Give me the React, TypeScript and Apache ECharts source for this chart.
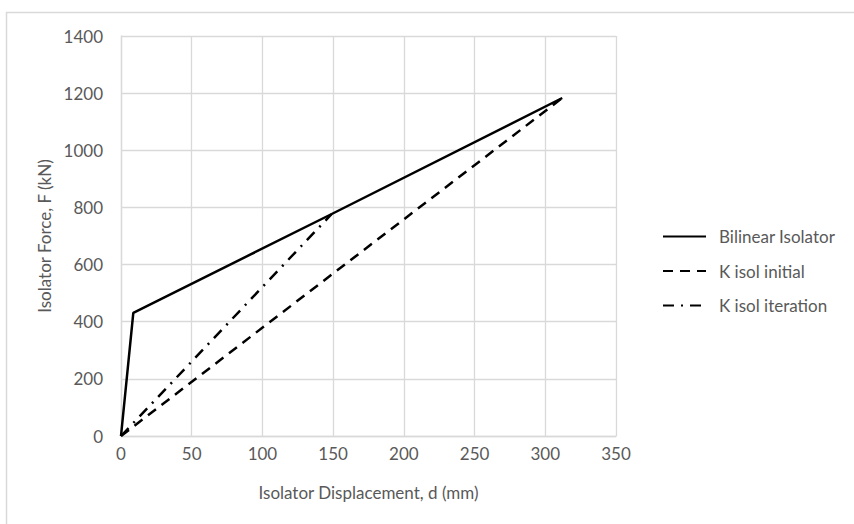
import React, { useEffect, useRef } from "react";
import * as echarts from "echarts";

const xTicks = [0, 50, 100, 150, 200, 250, 300, 350];
const yTicks = [0, 200, 400, 600, 800, 1000, 1200, 1400];

const bilinearX = [0, 8.7, 149, 312];
const bilinearY = [0, 431, 777, 1183];

const initialX = [0, 312];
const initialY = [0, 1183];

const iterationX = [0, 149];
const iterationY = [0, 777];

const seriesNames = ["Bilinear Isolator", "K isol initial", "K isol iteration"];
const xTitle = "Isolator Displacement, d (mm)";
const yTitle = "Isolator Force, F (kN)";

const zip = (xs: number[], ys: number[]) => xs.map((x, i) => [x, ys[i]]);

export default function App() {
  const ref = useRef<HTMLDivElement>(null);
  useEffect(() => {
    if (!ref.current) return;
    const chart = echarts.init(ref.current, null, { renderer: "svg" });
    const font = "Lato";
    const grey = "#595959";
    const gridColor = "#d9d9d9";
    chart.setOption({
      animation: false,
      backgroundColor: "#ffffff",
      textStyle: { fontFamily: font },
      graphic: [
        {
          type: "rect",
          shape: { x: 6.5, y: 12.5, width: 1000, height: 800 },
          style: { fill: "none", stroke: gridColor, lineWidth: 1.5 },
          silent: true,
          z: -1,
        },
      ],
      grid: { left: 121, right: 238, top: 36, bottom: 88, containLabel: false },
      xAxis: {
        type: "value",
        min: xTicks[0],
        max: xTicks[xTicks.length - 1],
        interval: 50,
        name: xTitle,
        nameLocation: "middle",
        nameGap: 48,
        nameTextStyle: { color: grey, fontSize: 17, fontFamily: font },
        axisLine: { show: true, lineStyle: { color: gridColor, width: 1.3 } },
        axisTick: { show: false },
        axisLabel: { color: grey, fontSize: 17, margin: 9, fontFamily: font, formatter: (v: number) => String(v) },
        splitLine: { show: true, lineStyle: { color: gridColor, width: 1.3 } },
      },
      yAxis: {
        type: "value",
        min: yTicks[0],
        max: yTicks[yTicks.length - 1],
        interval: 200,
        name: yTitle,
        nameLocation: "middle",
        nameGap: 63,
        nameRotate: 90,
        nameTextStyle: { color: grey, fontSize: 17, fontFamily: font },
        axisLine: { show: true, lineStyle: { color: gridColor, width: 1.3 } },
        axisTick: { show: false },
        axisLabel: { color: grey, fontSize: 17, margin: 18, fontFamily: font, formatter: (v: number) => String(v) },
        splitLine: { show: true, lineStyle: { color: gridColor, width: 1.3 } },
      },
      legend: {
        orient: "vertical",
        left: 657,
        top: 223,
        itemWidth: 43,
        itemHeight: 16,
        itemGap: 17.5,
        itemStyle: { opacity: 0 },
        textStyle: { color: grey, fontSize: 17, fontFamily: font, padding: [0, 0, 0, 8] },
        data: seriesNames,
      },
      series: [
        {
          name: seriesNames[0],
          type: "line",
          data: zip(bilinearX, bilinearY),
          symbol: "none",
          lineStyle: { color: "#000000", width: 2.5, type: "solid" },
          itemStyle: { color: "#000000" },
        },
        {
          name: seriesNames[1],
          type: "line",
          data: zip(initialX, initialY),
          symbol: "none",
          lineStyle: { color: "#000000", width: 2.5, type: [10, 7] },
          itemStyle: { color: "#000000" },
        },
        {
          name: seriesNames[2],
          type: "line",
          data: zip(iterationX, iterationY),
          symbol: "none",
          lineStyle: { color: "#000000", width: 2.5, type: [11, 7, 2, 7] },
          itemStyle: { color: "#000000" },
        },
      ],
    });
    return () => chart.dispose();
  }, []);
  return (
    <div
      ref={ref}
      style={{ position: "absolute", left: 0, top: 0, width: 854, height: 524 }}
    />
  );
}
